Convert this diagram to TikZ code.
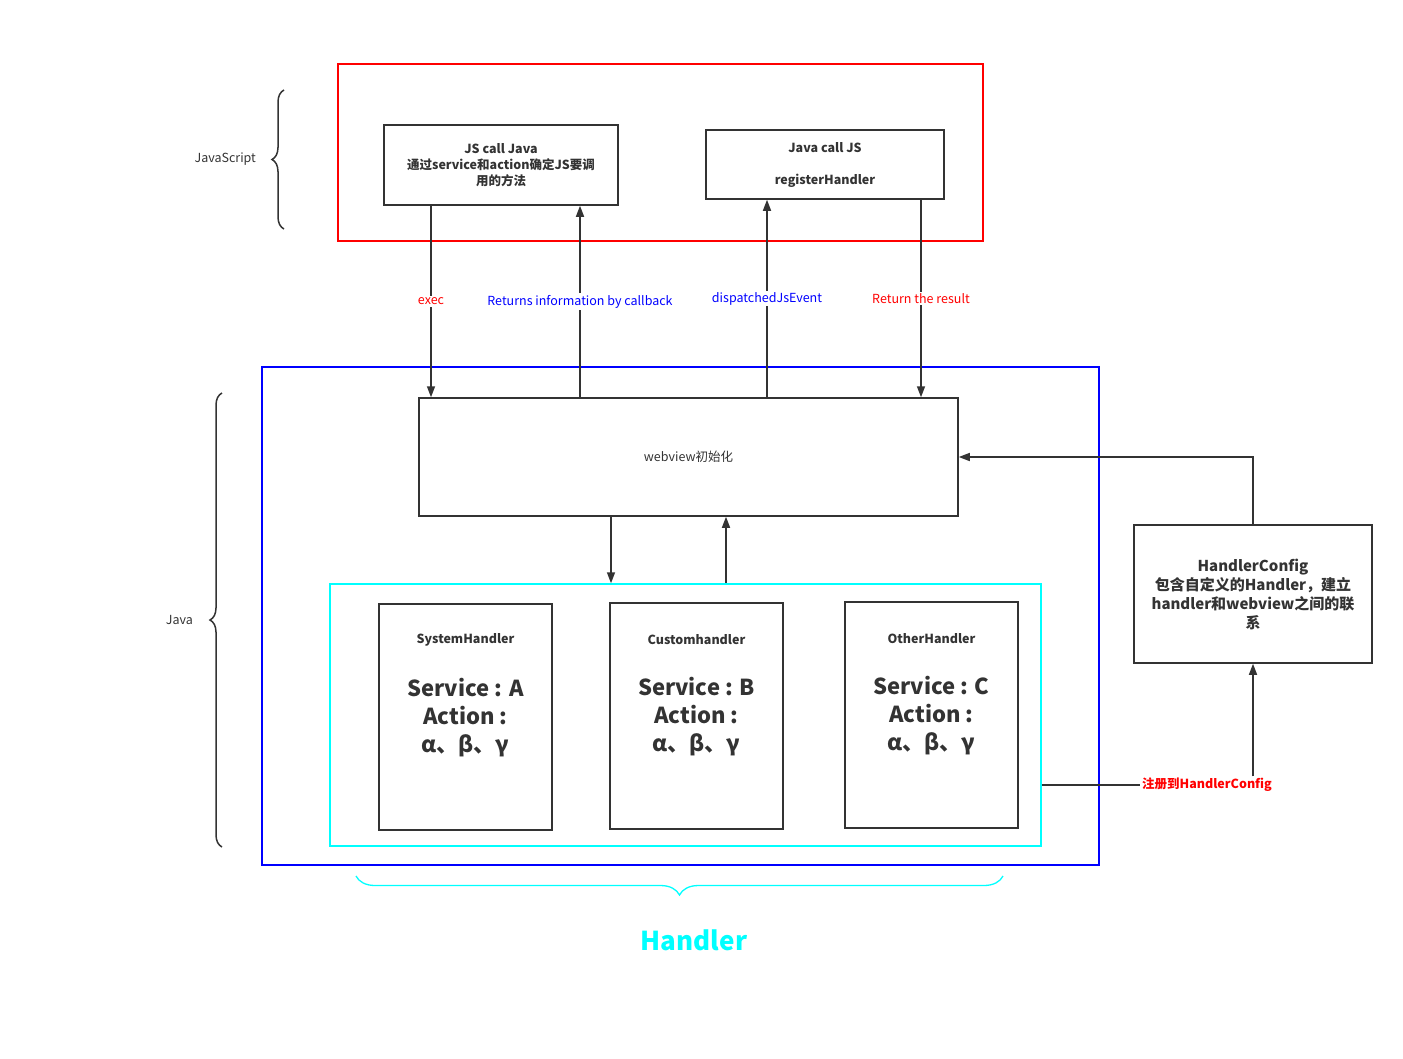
\documentclass[tikz,border=0pt]{standalone}
\usepackage{fontspec}
\setmainfont{Noto Sans CJK SC}
\usepackage{tikz}
\usetikzlibrary{positioning, calc}
\usetikzlibrary{arrows.meta, decorations.pathreplacing}

\begin{document}
\begin{tikzpicture}[x=1pt, y=-1pt, font=\fontsize{12.5}{16}\selectfont, align=center, >={Triangle[length=11pt, width=8pt]}, line width=1.5pt]
        % Define colors
        \definecolor{darkline}{RGB}{51,51,51}
        \definecolor{aqua}{RGB}{0,255,255}
        \tikzset{
            block/.style={draw=darkline, text=darkline, inner sep=0pt},
            zone/.style={draw, inner sep=0pt},
            lbl/.style={fill=white, inner sep=1.5pt}
        }
        \useasboundingbox (0,0) rectangle (1403,1058);

        % Frames
        \node[zone, draw=red, line width=1.2pt, minimum width=645pt, minimum height=177pt] (jsframe) at (660.5,152.5) {};
        \node[zone, draw=blue, minimum width=837pt, minimum height=498pt] (javaframe) at (680.5,616) {};
        \node[zone, draw=aqua, minimum width=711pt, minimum height=262pt] (handlerframe) at (685.5,715) {};

        % Nodes
        \node[block, minimum width=234pt, minimum height=80pt, font=\fontsize{12.5}{16}\selectfont\bfseries] (jscall) at (501,165) {JS call Java\\通过service和action确定JS要调\\用的方法};
        \node[block, minimum width=238pt, minimum height=69pt, font=\fontsize{12.5}{32}\selectfont\bfseries] (javacall) at (825,164.5) {Java call JS\\registerHandler};
        \node[block, minimum width=539pt, minimum height=118pt] (webview) at (688.5,457) {webview初始化};
        \node[block, minimum width=238pt, minimum height=138pt, font=\fontsize{15}{19}\selectfont\bfseries] (config) at (1253,594) {HandlerConfig\\包含自定义的Handler，建立\\handler和webview之间的联\\系};

        \node[block, minimum width=173pt, minimum height=226pt] (sys) at (465.5,717) {};
        \node[block, minimum width=173pt, minimum height=226pt, right=56.5pt of sys, yshift=1pt] (custom) {};
        \node[block, minimum width=173pt, minimum height=226pt, right=60.5pt of custom, yshift=1pt] (other) {};
        \foreach \n/\t/\s in {sys/SystemHandler/A, custom/Customhandler/B, other/OtherHandler/C} {
            \node[text=darkline, font=\fontsize{12.5}{16}\selectfont\bfseries] (\n name) at ([yshift=-37pt]\n.north) {\t};
            \node[text=darkline, font=\fontsize{22}{28}\selectfont\bfseries] (\n info) at ([yshift=-114pt]\n.north) {Service : \s\\Action : \\α、β、γ};
        }

        \node[text=red, fill=white, inner sep=1pt, font=\fontsize{12.5}{16}\selectfont\bfseries] (reg) at (1207,785) {注册到HandlerConfig};

        % Edges
        \draw[->, darkline] ([xshift=-70pt]jscall.south) -- ([xshift=-70pt]jscall.south |- webview.north) node[midway, lbl, text=red] {exec};
        \draw[<-, darkline] ([xshift=79pt]jscall.south) -- ([xshift=79pt]jscall.south |- webview.north) node[midway, lbl, text=blue] {Returns information by callback};
        \draw[<-, darkline] ([xshift=-58pt]javacall.south) -- ([xshift=-58pt]javacall.south |- webview.north) node[midway, lbl, text=blue] {dispatchedJsEvent};
        \draw[->, darkline] ([xshift=96pt]javacall.south) -- ([xshift=96pt]javacall.south |- webview.north) node[midway, lbl, text=red] {Return the result};

        \draw[->, darkline] ([xshift=-77.5pt]webview.south) -- ([xshift=-77.5pt]webview.south |- handlerframe.north);
        \draw[<-, darkline] ([xshift=37.5pt]webview.south) -- ([xshift=37.5pt]webview.south |- handlerframe.north);
        \draw[->, darkline] (config.north) |- (webview.east);
        \draw[darkline] ([yshift=-70pt]handlerframe.east) -- (reg.west);
        \draw[->, darkline] (reg.north -| config.south) -- (config.south);

        % Braces
        \draw[darkline, line width=1.5pt, decorate, decoration={brace, amplitude=12pt}] (284,229) -- (284,90) node[midway, left=24pt, text=darkline] (jslabel) {JavaScript};
        \draw[darkline, line width=1.5pt, decorate, decoration={brace, amplitude=12pt}] (222,847) -- (222,393) node[midway, left=25pt, text=darkline] (javalabel) {Java};
        \draw[aqua, line width=1.3pt, decorate, decoration={brace, amplitude=19pt}] (1003,876) -- (356,876);
        \node[text=aqua, font=\fontsize{26}{30}\selectfont\bfseries] (handlerlabel) at (694,940) {Handler};
    \end{tikzpicture}
\end{document}
